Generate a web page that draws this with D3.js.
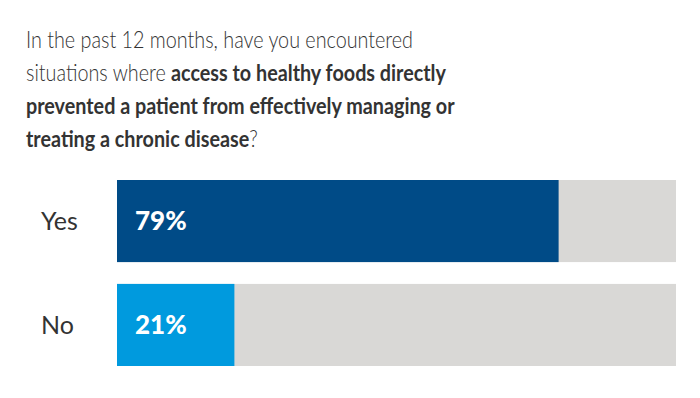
<!DOCTYPE html>
<html>
<head>
<meta charset="utf-8">
<script src="https://cdn.jsdelivr.net/npm/d3@7"></script>
<style>
  body { margin: 0; background: #fff; }
  text { font-family: Lato, "Open Sans", sans-serif; }
</style>
</head>
<body>
<div id="chart"></div>
<script>
(function() {
    var width = 700,
        height = 398;

    // data
    var categories = ["Yes", "No"];
    var values = [79, 21];
    var colors = ["#004b87", "#009ade"];

    // title lines, each a list of [text, bold]
    var titleLines = [
        [["In the past 12 months, have you encountered", false]],
        [["situations where ", false], ["access to healthy foods directly", true]],
        [["prevented a patient from effectively managing or", true]],
        [["treating a chronic disease", true], ["?", false]]
    ];

    var svg = d3.select("#chart")
        .append("svg")
        .attr("width", width)
        .attr("height", height);

    // the original face is narrower than Lato, so squeeze it a bit
    var title = svg.append("text")
        .attr("transform", "translate(26,48) scale(0.86,1)")
        .attr("fill", "#333333")
        .attr("font-size", 23)

    titleLines.forEach(function(line, i) {
        line.forEach(function(part, j) {
            var t = title.append("tspan")
                .text(part[0])
                .attr("font-weight", part[1] ? 700 : 300)
            if (j == 0) t.attr("x", 0).attr("dy", i == 0 ? 0 : 33)
        })
    })

    var x = d3.scaleLinear().domain([0, 100]).range([117, 676])
    var y = d3.scaleBand().domain(categories).range([180, 366]).paddingInner(0.21)

    var rows = svg.selectAll(".row")
        .data(categories)
        .enter().append("g")
        .attr("class", "row")

    rows.append("rect")
        .attr("x", x(0))
        .attr("y", function(d) { return y(d) })
        .attr("width", x(100) - x(0))
        .attr("height", y.bandwidth())
        .attr("fill", "#d9d8d6")

    rows.append("rect")
        .attr("x", x(0))
        .attr("y", function(d) { return y(d) })
        .attr("width", function(d, i) { return x(values[i]) - x(0) })
        .attr("height", y.bandwidth())
        .attr("fill", function(d, i) { return colors[i] })

    rows.append("text")
        .attr("x", 41)
        .attr("y", function(d) { return y(d) + y.bandwidth() / 2 })
        .attr("dy", "0.35em")
        .attr("font-size", 25)
        .attr("font-weight", 400)
        .attr("fill", "#333333")
        .text(function(d) { return d })

    rows.append("text")
        .attr("x", 135)
        .attr("y", function(d) { return y(d) + y.bandwidth() / 2 })
        .attr("dy", "0.35em")
        .attr("font-size", 26)
        .attr("font-weight", 900)
        .attr("fill", "#ffffff")
        .text(function(d, i) { return values[i] + "%" })
})();
</script>
</body>
</html>
